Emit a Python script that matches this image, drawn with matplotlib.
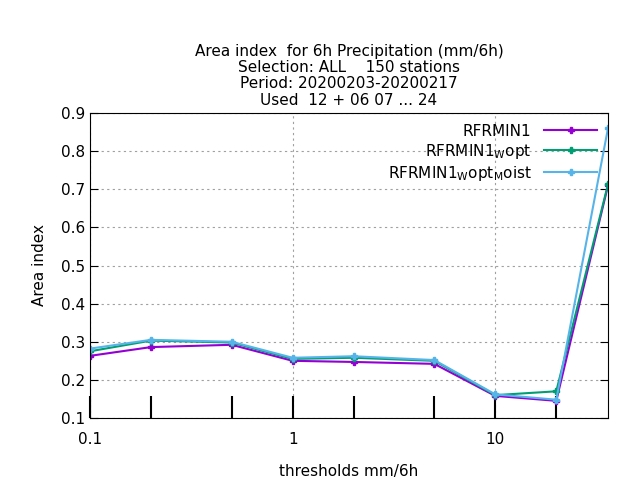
import matplotlib
matplotlib.use("Agg")
import matplotlib.pyplot as plt
from matplotlib.ticker import FixedLocator, NullFormatter

thresholds = [0.1, 0.2, 0.5, 1, 2, 5, 10, 20, 36]
rfrmin1 = [0.263, 0.286, 0.292, 0.250, 0.247, 0.242, 0.158, 0.145, 0.710]
rfrmin1_wopt = [0.275, 0.303, 0.298, 0.255, 0.258, 0.250, 0.160, 0.170, 0.713]
rfrmin1_wopt_moist = [0.282, 0.305, 0.300, 0.258, 0.262, 0.252, 0.162, 0.148, 0.860]

series = [
    ("RFRMIN1", rfrmin1, "#9400d3"),
    ("RFRMIN1$_{\\mathregular{W}}$opt", rfrmin1_wopt, "#009e73"),
    ("RFRMIN1$_{\\mathregular{W}}$opt$_{\\mathregular{M}}$oist", rfrmin1_wopt_moist, "#56b4e9"),
]

fig = plt.figure(figsize=(6.4, 4.8), dpi=100)
ax = fig.add_axes([90 / 640, 62 / 480, 518 / 640, 305 / 480])

for name, vals, col in series:
    ax.plot(thresholds, vals, color=col, lw=1.5, marker="P", ms=5, label=name)

ax.set_xscale("log")
ax.set_xlim(0.1, 36)
ax.set_ylim(0.1, 0.9)
ax.xaxis.set_major_locator(FixedLocator([0.1, 1, 10]))
ax.xaxis.set_minor_locator(FixedLocator([0.2, 0.5, 2, 5, 20]))
ax.xaxis.set_minor_formatter(NullFormatter())
ax.set_xticklabels(["0.1", "1", "10"])
ax.set_yticks([0.1, 0.2, 0.3, 0.4, 0.5, 0.6, 0.7, 0.8, 0.9])
ax.set_yticklabels(["0.1", "0.2", "0.3", "0.4", "0.5", "0.6", "0.7", "0.8", "0.9"])
ax.tick_params(which="both", direction="in", top=False, right=True, labelsize=11)
ax.tick_params(axis="x", which="both", length=16, width=1.5, pad=10)
ax.tick_params(axis="y", length=6)
ax.grid(True, which="major", color="#a0a0a0", linestyle=(0, (2, 3)), lw=0.8)

ax.set_xlabel("thresholds mm/6h", fontsize=11, labelpad=12)
ax.set_ylabel("Area index", fontsize=11, labelpad=10)
ax.set_title("Area index  for 6h Precipitation (mm/6h)\nSelection: ALL    150 stations\n"
             "Period: 20200203-20200217\nUsed  12 + 06 07 ... 24", fontsize=11, linespacing=1.1)

leg = ax.legend(loc="upper right", frameon=False, fontsize=11, markerfirst=False,
                handlelength=3.5, borderaxespad=0.3, labelspacing=0.2)
for t in leg.get_texts():
    t.set_ha("right")

fig.savefig("out.png", dpi=100)
